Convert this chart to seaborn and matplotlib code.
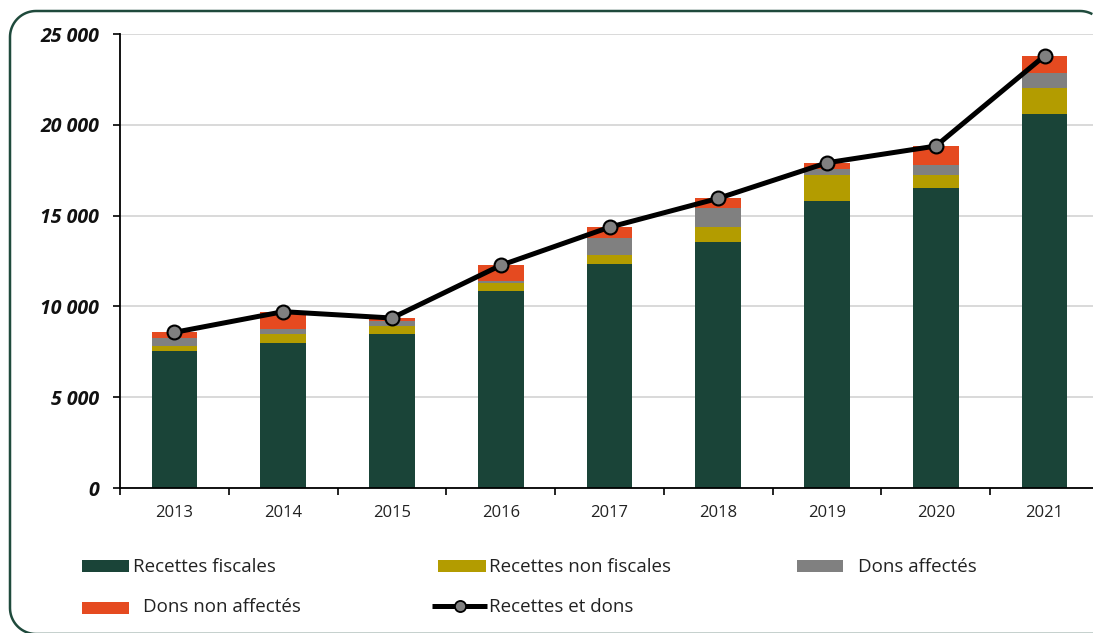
import numpy as np
import pandas as pd
import matplotlib
matplotlib.use("Agg")
import matplotlib.pyplot as plt
import seaborn as sns
from matplotlib.patches import Rectangle
from matplotlib.lines import Line2D
from matplotlib.ticker import FuncFormatter, FixedLocator
from matplotlib.transforms import IdentityTransform

# Budget revenue by component (millions)
years = ["2013", "2014", "2015", "2016", "2017", "2018", "2019", "2020", "2021"]
recettes_fiscales = [7530, 7970, 8500, 10830, 12350, 13550, 15800, 16500, 20610]
recettes_non_fiscales = [290, 490, 400, 480, 480, 800, 1450, 750, 1400]
dons_affectes = [460, 290, 280, 90, 960, 1080, 330, 510, 840]
dons_non_affectes = [290, 960, 180, 860, 570, 520, 330, 1070, 950]

series_names = ["Recettes fiscales", "Recettes non fiscales", "Dons affectés", "Dons non affectés"]
line_name = "Recettes et dons"
colors = ["#1a4438", "#b39c00", "#808080", "#e54a20"]

df = pd.DataFrame({
    "annee": years,
    series_names[0]: recettes_fiscales,
    series_names[1]: recettes_non_fiscales,
    series_names[2]: dons_affectes,
    series_names[3]: dons_non_affectes,
})
df[line_name] = df[series_names].sum(axis=1)

sns.set_theme(style="white")
plt.rcParams["font.family"] = ["Open Sans", "DejaVu Sans"]

W, H = 1093, 633
fig = plt.figure(figsize=(W / 100, H / 100), dpi=100)

def fx(px):
    return px / W

def fy(py):
    return 1 - py / H

# Rounded frame around the chart, traced as an open outline (pixel coords, y down)
def frame_outline(left, top, right, bottom, r):
    pts = []
    def arc(cx, cy, a0, a1):
        t = np.linspace(np.radians(a0), np.radians(a1), 20)
        return list(zip(cx + r * np.cos(t), cy + r * np.sin(t)))
    pts.append((W, bottom))
    pts += arc(left + r, bottom - r, 90, 180)
    pts += arc(left + r, top + r, 180, 270)
    pts += arc(right - r, top + r, 270, 360)
    xs = np.array([p[0] for p in pts])
    ys = np.array([p[1] for p in pts])
    keep = xs <= W
    return xs[keep], H - ys[keep]

fxs, fys = frame_outline(10, 11, 1106, 634, 26)
fig.add_artist(Line2D(fxs, fys, transform=IdentityTransform(), color="#1f4a3c",
                      linewidth=1.8, solid_capstyle="butt"))

ax = fig.add_axes([fx(120), fy(488), fx(1099) - fx(120), fy(34) - fy(488)])

bottom = np.zeros(len(years))
for name, col in zip(series_names, colors):
    vals = df[name].to_numpy()
    sns.barplot(data=df, x="annee", y=name, color=col, width=0.42,
                bottom=bottom, ax=ax, saturation=1, linewidth=0)
    bottom = bottom + vals

xpos = np.arange(len(years))
sns.lineplot(x=xpos, y=df[line_name].to_numpy(), ax=ax, color="black",
             linewidth=3.6, marker="o", markersize=10,
             markerfacecolor="#808080", markeredgecolor="black",
             markeredgewidth=1.5, zorder=5)

ax.set_xlim(-0.5, len(years) - 0.5)
ax.set_ylim(0, 25000)
ax.set_xlabel("")
ax.set_ylabel("")

ax.set_yticks(np.arange(0, 25001, 5000))
ax.yaxis.set_major_formatter(FuncFormatter(lambda v, p: f"{int(v):,}".replace(",", " ")))
ax.grid(axis="y", color="#d9d9d9", linewidth=1.4)
ax.set_axisbelow(True)

ax.set_xticks(xpos)
ax.set_xticklabels(years)
ax.xaxis.set_minor_locator(FixedLocator(np.arange(-0.5, len(years), 1.0)))
ax.tick_params(axis="x", which="major", length=0, pad=12, labelsize=12, labelcolor="#222222")
ax.tick_params(axis="x", which="minor", length=5, width=1.2, color="black", direction="out", bottom=True)
ax.tick_params(axis="y", which="major", length=5, width=1.2, color="black", direction="out", left=True, pad=10)
for lab in ax.get_yticklabels():
    lab.set_fontweight("bold")
    lab.set_fontstyle("italic")
    lab.set_fontsize(14)
    lab.set_color("#111111")

for s in ["top", "right"]:
    ax.spines[s].set_visible(False)
for s in ["left", "bottom"]:
    ax.spines[s].set_color("black")
    ax.spines[s].set_linewidth(1.3)

# Legend laid out in two rows below the axes
def legend_patch(x0, x1, yc, col):
    h = 12
    fig.add_artist(Rectangle((fx(x0), fy(yc + h / 2)), fx(x1) - fx(x0), h / H,
                             transform=fig.transFigure, facecolor=col, edgecolor="none"))

def legend_text(x, ybase, s):
    fig.text(fx(x), fy(ybase), s, ha="left", va="baseline", fontsize=13.5, color="#222222")

legend_patch(82, 129, 566, colors[0]); legend_text(133, 571.5, series_names[0])
legend_patch(438, 486, 566, colors[1]); legend_text(489, 571.5, series_names[1])
legend_patch(797, 843, 566, colors[2]); legend_text(858, 571.5, series_names[2])
legend_patch(82, 129, 608, colors[3]); legend_text(143, 611.5, series_names[3])
fig.add_artist(Line2D([fx(432), fx(487)], [fy(606), fy(606)], transform=fig.transFigure,
                      color="black", linewidth=3.6, solid_capstyle="butt"))
fig.add_artist(Line2D([fx(459.5)], [fy(606)], transform=fig.transFigure, linestyle="none",
                      marker="o", markersize=8, markerfacecolor="#808080",
                      markeredgecolor="black", markeredgewidth=1.3))
legend_text(489, 611.5, line_name)

fig.savefig("out.png", dpi=100)
